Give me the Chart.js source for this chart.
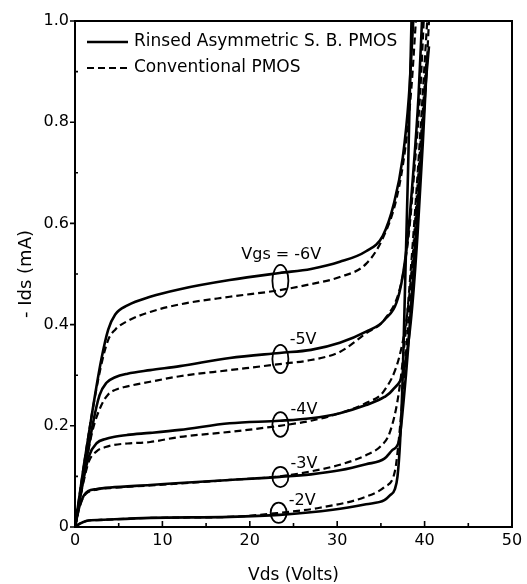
<!DOCTYPE html>
<html>
<head>
<meta charset="utf-8">
<script src="https://cdn.jsdelivr.net/npm/chart.js@4.4.1/dist/chart.umd.min.js"></script>
<style>
  html, body { margin: 0; padding: 0; background: #fff; }
  #wrap { width: 527px; height: 584px; }
</style>
</head>
<body>
<div id="wrap"><canvas id="iv"></canvas></div>
<script>
// Vds / -Ids pairs, one pair of arrays per curve
// solid = Rinsed Asymmetric S.B. PMOS, dashed = Conventional PMOS
const vds6s = [0, 1, 2, 3, 3.8, 4.6, 6, 8.6, 12, 17.7, 23.4, 27, 30.3, 33.3, 35.2, 36.5, 37.5, 38.2, 38.7];
const ids6s = [0, 0.12, 0.23, 0.33, 0.39, 0.42, 0.438, 0.455, 0.47, 0.488, 0.502, 0.51, 0.524, 0.545, 0.575, 0.64, 0.73, 0.85, 1.0];
const vds6d = [0, 1, 2, 3, 3.8, 4.6, 6, 8.6, 12, 17.7, 23.4, 27, 30.3, 33.3, 35.2, 36.8, 37.8, 38.5, 39.0];
const ids6d = [0, 0.12, 0.23, 0.32, 0.37, 0.39, 0.407, 0.425, 0.44, 0.455, 0.468, 0.48, 0.494, 0.52, 0.57, 0.65, 0.75, 0.87, 1.0];

const vds5s = [0, 1, 2, 2.8, 3.6, 4.6, 6, 8.6, 12, 17.7, 23.4, 27, 30.3, 33.3, 35.4, 37.1, 38.0, 38.7, 39.3, 39.7];
const ids5s = [0, 0.1, 0.2, 0.26, 0.285, 0.296, 0.303, 0.31, 0.318, 0.334, 0.344, 0.35, 0.364, 0.386, 0.409, 0.462, 0.56, 0.70, 0.85, 1.0];
const vds5d = [0, 1, 2, 3, 3.8, 4.6, 6, 8.6, 12, 17.7, 23.4, 27, 30.3, 33.3, 35.4, 37.3, 38.2, 38.9, 39.5, 39.9];
const ids5d = [0, 0.1, 0.19, 0.24, 0.262, 0.271, 0.278, 0.287, 0.298, 0.31, 0.322, 0.33, 0.346, 0.383, 0.41, 0.48, 0.58, 0.72, 0.86, 1.0];

const vds4s = [0, 0.8, 1.6, 2.5, 3.5, 4.4, 6, 8.6, 12, 17.7, 23.4, 27, 30.3, 33.3, 35.4, 36.3, 37.7, 38.5, 39.2, 39.8, 40.3];
const ids4s = [0, 0.08, 0.14, 0.166, 0.174, 0.178, 0.182, 0.186, 0.192, 0.205, 0.21, 0.215, 0.225, 0.241, 0.257, 0.27, 0.316, 0.42, 0.58, 0.76, 0.93];
const vds4d = [0, 0.8, 1.6, 2.5, 3.5, 4.4, 6, 8.6, 12, 17.7, 23.4, 27, 30.3, 33.3, 35.4, 37.1, 38.0, 38.8, 39.5, 40.2, 40.5];
const ids4d = [0, 0.075, 0.13, 0.15, 0.158, 0.162, 0.165, 0.168, 0.178, 0.188, 0.2, 0.21, 0.225, 0.245, 0.27, 0.336, 0.42, 0.56, 0.72, 0.90, 1.0];

const vds3s = [0, 0.5, 1, 1.5, 2.5, 4, 8.6, 12, 17.7, 23.4, 27, 30.3, 33.3, 35.4, 36.3, 37.1, 37.6, 38.1, 38.7, 39.4, 40.1, 40.5];
const ids3s = [0, 0.04, 0.062, 0.071, 0.075, 0.078, 0.083, 0.087, 0.093, 0.099, 0.104, 0.112, 0.124, 0.135, 0.152, 0.172, 0.25, 0.35, 0.5, 0.68, 0.87, 0.95];
const vds3d = [0, 0.5, 1, 1.5, 2.5, 4, 8.6, 12, 17.7, 23.4, 27, 30.3, 33.3, 35, 36, 37.0, 37.8, 38.6, 39.4, 40.3];
const ids3d = [0, 0.038, 0.06, 0.069, 0.074, 0.077, 0.082, 0.086, 0.093, 0.1, 0.11, 0.123, 0.142, 0.16, 0.186, 0.26, 0.38, 0.55, 0.75, 1.0];

const vds2s = [0, 0.5, 1.3, 3, 8.6, 17.7, 23.4, 29.5, 33.3, 35.4, 36.0, 36.6, 36.9, 37.2, 37.5, 37.8, 38.1, 38.3, 38.5];
const ids2s = [0, 0.006, 0.012, 0.014, 0.018, 0.02, 0.024, 0.034, 0.045, 0.053, 0.062, 0.075, 0.1, 0.17, 0.3, 0.5, 0.7, 0.85, 1.0];
const vds2d = [0, 0.5, 1.3, 3, 8.6, 17.7, 23.4, 28, 33.3, 35.4, 36.6, 37.2, 37.9, 38.7, 39.5, 40.2];
const ids2d = [0, 0.006, 0.012, 0.014, 0.018, 0.02, 0.028, 0.038, 0.06, 0.079, 0.11, 0.2, 0.35, 0.55, 0.75, 0.92];

// axis ticks
const xTicks = [0, 10, 20, 30, 40, 50];
const yTicks = [0, 0.2, 0.4, 0.6, 0.8, 1.0];
const xMinor = [5, 15, 25, 35, 45];
const yMinor = [0.1, 0.3, 0.5, 0.7, 0.9];

// gate voltage labels and the ellipses that group each solid/dashed pair
const vgsText = ['Vgs = -6V', '-5V', '-4V', '-3V', '-2V'];
const vgsTextVds = [23.6, 26.1, 26.2, 26.2, 26.0];
const vgsTextIds = [0.538, 0.370, 0.231, 0.125, 0.051];
const ringVds = [23.5, 23.5, 23.5, 23.5, 23.3];
const ringLow = [0.455, 0.304, 0.178, 0.079, 0.008];
const ringHigh = [0.518, 0.360, 0.227, 0.119, 0.048];

const legendText = ['Rinsed Asymmetric S. B. PMOS', 'Conventional PMOS'];

const FONT = "'DejaVu Sans', sans-serif";

function pts(xs, ys) {
  return xs.map((x, i) => ({ x: x, y: ys[i] }));
}

function curve(xs, ys, dashed) {
  return {
    data: pts(xs, ys),
    showLine: true,
    borderColor: '#000',
    borderWidth: dashed ? 2.2 : 2.6,
    borderDash: dashed ? [7, 4] : [],
    pointRadius: 0,
    fill: false,
    cubicInterpolationMode: 'monotone'
  };
}

const extras = {
  id: 'extras',
  afterDraw(chart) {
    const ctx = chart.ctx;
    const a = chart.chartArea;
    const xs = chart.scales.x, ys = chart.scales.y;
    ctx.save();
    ctx.strokeStyle = '#000';
    ctx.fillStyle = '#000';
    ctx.lineWidth = 2;
    ctx.strokeRect(a.left, a.top, a.right - a.left, a.bottom - a.top);

    ctx.lineWidth = 1.6;
    ctx.beginPath();
    yTicks.forEach(v => {
      const p = ys.getPixelForValue(v);
      ctx.moveTo(a.left - 5, p); ctx.lineTo(a.left, p);
    });
    yMinor.forEach(v => {
      const p = ys.getPixelForValue(v);
      ctx.moveTo(a.left, p); ctx.lineTo(a.left + 3, p);
    });
    xTicks.forEach(v => {
      const p = xs.getPixelForValue(v);
      ctx.moveTo(p, a.bottom); ctx.lineTo(p, a.bottom - 6);
    });
    xMinor.forEach(v => {
      const p = xs.getPixelForValue(v);
      ctx.moveTo(p, a.bottom); ctx.lineTo(p, a.bottom - 4);
    });
    ctx.stroke();

    // legend inside the plot, top left
    const lx = a.left + 12, ly = a.top + 21, gap = 26;
    ctx.lineWidth = 2.4;
    ctx.beginPath();
    ctx.moveTo(lx, ly); ctx.lineTo(lx + 41, ly);
    ctx.stroke();
    ctx.lineWidth = 2.2;
    ctx.setLineDash([7, 4]);
    ctx.beginPath();
    ctx.moveTo(lx, ly + gap); ctx.lineTo(lx + 41, ly + gap);
    ctx.stroke();
    ctx.setLineDash([]);
    ctx.font = '17px ' + FONT;
    ctx.textAlign = 'left';
    ctx.textBaseline = 'middle';
    ctx.fillText(legendText[0], lx + 47, ly);
    ctx.fillText(legendText[1], lx + 47, ly + gap);

    // Vgs labels
    ctx.font = '16px ' + FONT;
    ctx.textAlign = 'center';
    vgsText.forEach((t, i) => {
      ctx.fillText(t, xs.getPixelForValue(vgsTextVds[i]), ys.getPixelForValue(vgsTextIds[i]));
    });

    // ellipses
    ctx.lineWidth = 1.8;
    ringVds.forEach((v, i) => {
      const cx = xs.getPixelForValue(v);
      const y1 = ys.getPixelForValue(ringHigh[i]);
      const y2 = ys.getPixelForValue(ringLow[i]);
      ctx.beginPath();
      ctx.ellipse(cx, (y1 + y2) / 2, 8, (y2 - y1) / 2, 0, 0, Math.PI * 2);
      ctx.stroke();
    });
    ctx.restore();
  }
};

document.addEventListener('DOMContentLoaded', () => {
  const ctxIv = document.getElementById('iv').getContext('2d');
  const ivChart = new Chart(ctxIv, {
    type: 'scatter',
    data: {
      datasets: [
        curve(vds6s, ids6s, false), curve(vds6d, ids6d, true),
        curve(vds5s, ids5s, false), curve(vds5d, ids5d, true),
        curve(vds4s, ids4s, false), curve(vds4d, ids4d, true),
        curve(vds3s, ids3s, false), curve(vds3d, ids3d, true),
        curve(vds2s, ids2s, false), curve(vds2d, ids2d, true)
      ]
    },
    options: {
      responsive: true,
      maintainAspectRatio: false,
      animation: false,
      layout: { padding: { top: 21, right: 15, left: 0, bottom: 0 } },
      plugins: { legend: { display: false }, tooltip: { enabled: false } },
      scales: {
        x: {
          type: 'linear', min: 0, max: 50,
          grid: { display: false, drawTicks: false },
          border: { display: false },
          ticks: { stepSize: 10, color: '#000', padding: 4, font: { family: FONT, size: 16 } },
          title: { display: true, text: 'Vds (Volts)', color: '#000',
                   font: { family: FONT, size: 17, lineHeight: 1 }, padding: { top: 0, bottom: 0 } },
          afterFit(scale) { scale.height = 57; }
        },
        y: {
          type: 'linear', min: 0, max: 1,
          grid: { display: false, drawTicks: false },
          border: { display: false },
          ticks: {
            stepSize: 0.2, color: '#000', padding: 6, font: { family: FONT, size: 16 },
            callback: v => (v === 0 ? '0' : v.toFixed(1))
          },
          title: { display: true, text: '- Ids (mA)', color: '#000',
                   font: { family: FONT, size: 18 }, padding: { top: 16, bottom: 0 } },
          afterFit(scale) { scale.width = 75; }
        }
      }
    },
    plugins: [extras]
  });
});
</script>
</body>
</html>
